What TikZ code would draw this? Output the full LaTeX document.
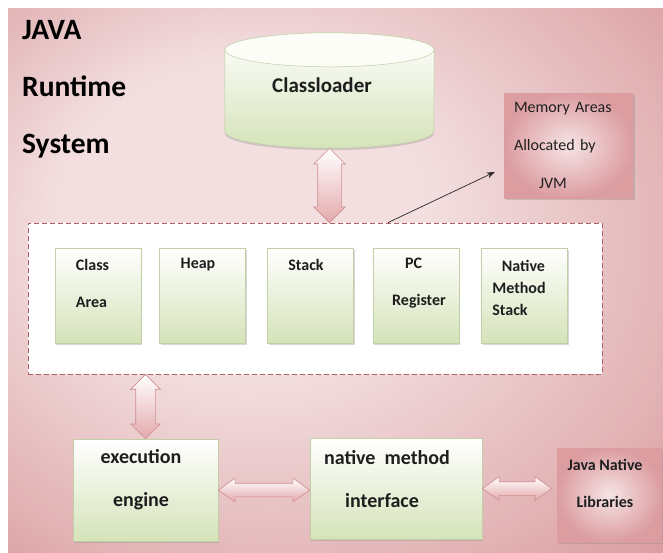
\documentclass[tikz,border=0pt]{standalone}
\usepackage{fontspec}
\setmainfont{Carlito}
\usetikzlibrary{calc,shapes.arrows,shadows,arrows.meta}

\definecolor{bgdark}{HTML}{D48E91}
\definecolor{bgmid}{HTML}{E3B5B7}
\definecolor{bglight}{HTML}{F3DFE0}
\definecolor{boxgreen}{HTML}{D5E3B9}
\definecolor{boxedge}{HTML}{C2CFA6}
\definecolor{cltop}{HTML}{FBFDF6}
\definecolor{arrowpink}{HTML}{E4A9AC}
\definecolor{arrowline}{HTML}{CF8C90}
\definecolor{dashcol}{HTML}{AE6268}
\definecolor{memdark}{HTML}{DC9DA1}
\definecolor{memlight}{HTML}{F6E4E5}
\definecolor{txtcol}{HTML}{1E1E1E}

\pgfdeclareradialshading{bgglow}{\pgfpoint{-10bp}{8bp}}{color(0bp)=(bglight); color(14bp)=(bglight);
  color(30bp)=(bgmid); color(44bp)=(bgdark); color(50bp)=(bgdark)}

\tikzset{
  areabox/.style={draw=boxedge, line width=0.5pt, top color=white, bottom color=boxgreen,
    minimum width=86pt, minimum height=95pt, inner sep=0pt,
    drop shadow={shadow xshift=1pt, shadow yshift=-1.5pt, opacity=0.3}},
  enginebox/.style={areabox, minimum width=145pt, minimum height=102pt},
  clstore/.style={inner sep=0pt, minimum width=209pt, minimum height=115pt},
  areaframe/.style={draw=dashcol, dash pattern=on 5pt off 3pt, line width=0.8pt, fill=white,
    minimum width=574pt, minimum height=151pt},
  memnote/.style={inner color=memlight, outer color=memdark,
    text width=109pt, align=left, inner xsep=10pt, inner ysep=0pt,
    minimum height=105pt, text=txtcol, font=\fontsize{16}{38}\selectfont,
    drop shadow={shadow xshift=1.5pt, shadow yshift=-1.5pt, opacity=0.3}},
  libbox/.style={inner color=memlight, outer color=memdark,
    minimum width=105pt, minimum height=94pt, inner sep=0pt,
    drop shadow={shadow xshift=1.5pt, shadow yshift=-1.5pt, opacity=0.3}},
  boxtxt/.style={inner sep=0pt, text=txtcol, font=\fontsize{16}{37}\selectfont\bfseries},
  bigtxt/.style={boxtxt, align=center, font=\fontsize{20}{43}\selectfont\bfseries},
  titletxt/.style={inner sep=0pt, align=left, text=black, font=\fontsize{29.5}{57}\selectfont\bfseries},
  fatarrow/.style={double arrow, draw=arrowline, line width=0.6pt, top color=white, bottom color=arrowpink,
    inner xsep=0pt, inner ysep=11.5pt, double arrow head extend=4pt, double arrow tip angle=90},
  pointer/.style={draw=black!85, line width=0.7pt, -{Stealth[length=8pt, width=6pt]}},
}

% fat double arrow between two points
\newcommand{\fatlink}[3][]{%
  \path let \p1=($(#3)-(#2)$), \n1={veclen(\x1,\y1)}, \n2={atan2(\y1,\x1)} in
    node[fatarrow, #1, minimum height=\n1, rotate=\n2] at ($(#2)!0.5!(#3)$) {};}

\begin{document}
\begin{tikzpicture}[x=1pt, y=-1pt]
  \useasboundingbox (0,0) rectangle (663,552);
  % Background
  \shade[shading=bgglow] (8,8) rectangle (663,552);

  % Title
  \node[titletxt, anchor=west] (title) at (22,89) {JAVA\\Runtime\\System};

  % Classloader
  \node[clstore] (cl) at (329.5,90.5) {};
  \shade[top color=white, bottom color=boxgreen, draw=boxedge, line width=0.5pt,
    drop shadow={shadow xshift=0pt, shadow yshift=-2pt, opacity=0.3}]
    ([yshift=-17pt]cl.north west) -- ([yshift=17pt]cl.south west)
    arc[start angle=180, end angle=0, x radius=104.5, y radius=17]
    -- ([yshift=-17pt]cl.north east)
    arc[start angle=0, end angle=-180, x radius=104.5, y radius=17] -- cycle;
  \draw[draw=boxedge, line width=0.5pt, fill=cltop] ([yshift=-17pt]cl.north)
    ellipse[x radius=104.5, y radius=17];
  \node[boxtxt, font=\fontsize{21}{25}\selectfont\bfseries] (cltxt) at (322,85) {Classloader};

  % Runtime data areas
  \node[areaframe] (rtarea) at (315,298.5) {};
  \foreach \name/\x in {carea/98, heap/202.5, stack/310.5, pcreg/416, nstack/524.5}
    \node[areabox] (\name) at (\x,295.5) {};

  \node[boxtxt, align=left] (careatxt) at (92.5,283.5) {Class\\Area};
  \node[boxtxt] (heaptxt) at (198,265) {Heap};
  \node[boxtxt] (stacktxt) at (306,265) {Stack};
  \node[boxtxt, align=left] (pcregtxt) at (419,283.5) {\hspace*{13pt}PC\\Register};
  \node[boxtxt, align=left, font=\fontsize{16}{22}\selectfont\bfseries] (nstacktxt) at (519,287.5)
    {\hspace*{9.5pt}Native\\Method\\Stack};

  % Memory areas note
  \node[memnote] (mem) at (568.5,145.5) {Memory Areas\\Allocated by\\\hspace*{25pt}JVM};
  \draw[pointer] ([xshift=73pt]rtarea.north) -- ([xshift=-9pt,yshift=-26.5pt]mem.west);

  % Execution engine and native interface
  \node[enginebox] (exec) at (145.5,490) {};
  \node[bigtxt] (exectxt) at (141,479.5) {execution\\engine};
  \node[enginebox, minimum width=172pt, minimum height=101pt] (nmi) at (396,488.5) {};
  \node[bigtxt] (nmitxt) at (387,479.5) {native\ \ method\\\hspace*{-10pt}interface};
  \node[libbox] (jnl) at (609.5,495) {};
  \node[boxtxt, align=center] (jnltxt) at (605,483.5) {Java Native\\Libraries};

  % Links
  \fatlink{cl.south}{cl.south |- rtarea.north}
  \fatlink[inner ysep=9.5pt, double arrow head extend=5pt]{exec.north |- rtarea.south}{exec.north}
  \fatlink[inner ysep=6.5pt, double arrow head extend=5pt, double arrow tip angle=70]{exec.east}{exec.east -| nmi.west}
  \fatlink[inner ysep=6.5pt, double arrow head extend=5pt, double arrow tip angle=70]{nmi.east}{[xshift=-5pt]nmi.east -| jnl.west}
\end{tikzpicture}
\end{document}
